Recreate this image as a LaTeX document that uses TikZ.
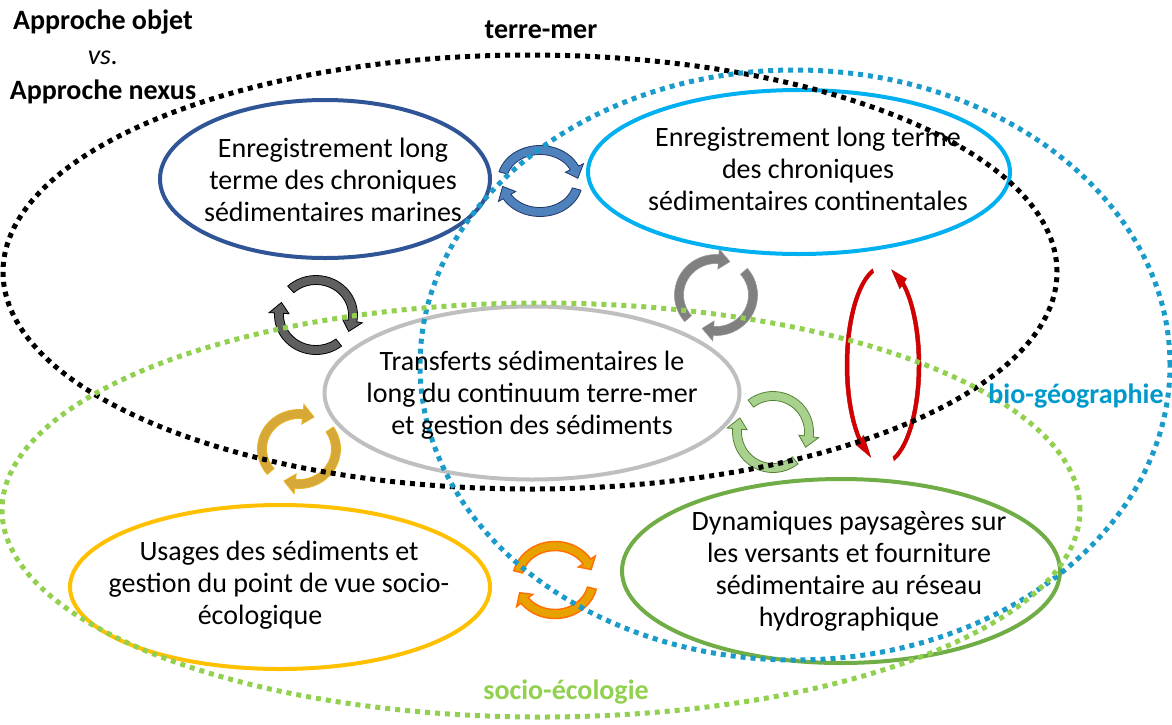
\documentclass[tikz,border=0pt]{standalone}
\usepackage{fontspec}
\setmainfont{Carlito}
\usetikzlibrary{shapes.geometric}
\definecolor{cmar}{HTML}{2F5597}
\definecolor{ccont}{HTML}{00B0F0}
\definecolor{ctrans}{HTML}{BFBFBF}
\definecolor{cusag}{HTML}{FFC000}
\definecolor{cdyn}{HTML}{70AD47}
\definecolor{cbio}{HTML}{0099CC}
\definecolor{csocio}{HTML}{92D050}
\definecolor{cbiodot}{HTML}{1A9BC9}
\newcommand{\carrow}[9]{%
\begin{scope}[shift={#2}]
\pgfmathsetmacro{\rxo}{#3+#7}\pgfmathsetmacro{\ryo}{#4+#7}%
\pgfmathsetmacro{\rxi}{#3-#7}\pgfmathsetmacro{\ryi}{#4-#7}%
\pgfmathsetmacro{\rxa}{#3+#8}\pgfmathsetmacro{\rya}{#4+#8}%
\pgfmathsetmacro{\rxb}{#3-#8}\pgfmathsetmacro{\ryb}{#4-#8}%
\pgfmathsetmacro{\at}{#6+#9}%
\draw[#1] (#5:\rxo pt and \ryo pt) arc[start angle=#5, end angle=#6, x radius=\rxo pt, y radius=\ryo pt]
 -- (#6:\rxa pt and \rya pt) -- (\at:#3pt and #4pt) -- (#6:\rxb pt and \ryb pt)
 -- (#6:\rxi pt and \ryi pt) arc[start angle=#6, end angle=#5, x radius=\rxi pt, y radius=\ryi pt] -- cycle;
\end{scope}}
\tikzset{
 solidell/.style={ellipse, draw=#1, line width=4pt, inner sep=0pt},
 dotell/.style={ellipse, draw=#1, line width=5pt, dash pattern=on 5pt off 5pt, inner sep=0pt},
 bodytext/.style={align=center, font=\fontsize{28}{32}\selectfont, inner sep=0pt},
 labeltext/.style={align=center, font=\fontsize{28}{35}\selectfont\bfseries, inner sep=0pt},
 arrblue/.style={fill={rgb,255:red,79;green,129;blue,189}, draw={rgb,255:red,31;green,56;blue,100}, line width=0.8pt},
 arrdark/.style={fill={rgb,255:red,95;green,95;blue,95}, draw=black, line width=0.8pt},
 arrgrey/.style={fill={rgb,255:red,128;green,128;blue,128}, draw={rgb,255:red,150;green,150;blue,150}, line width=0.6pt},
 arrred/.style={fill={rgb,255:red,210;green,0;blue,0}, draw={rgb,255:red,192;green,0;blue,0}, line width=0.5pt},
 arrgreen/.style={fill={rgb,255:red,169;green,209;blue,142}, draw={rgb,255:red,84;green,130;blue,53}, line width=0.8pt},
 arrgold/.style={fill={rgb,255:red,214;green,168;blue,56}, draw={rgb,255:red,232;green,180;blue,40}, line width=0.8pt},
 arrorange/.style={fill={rgb,255:red,232;green,162;blue,0}, draw={rgb,255:red,255;green,112;blue,0}, line width=1.5pt},
}
\begin{document}
\begin{tikzpicture}[x=1pt,y=1pt,yscale=-1]
\useasboundingbox (0,0) rectangle (1172,724);
% solid ellipses
\node[solidell=cmar, minimum width=330pt, minimum height=158pt] (emar) at (325,179) {};
\node[solidell=ccont, minimum width=422pt, minimum height=164pt] (econt) at (799,172) {};
\node[solidell=ctrans, minimum width=415pt, minimum height=173pt] (etrans) at (532,393) {};
\node[solidell=cusag, minimum width=420pt, minimum height=164pt] (eusag) at (280,587) {};
\node[solidell=cdyn, minimum width=438pt, minimum height=184pt] (edyn) at (841,571) {};
% circular arrows
\carrow{arrblue}{(540,181)}{38}{31}{195}{335}{4.5}{10}{20}
\carrow{arrblue}{(540,181)}{38}{31}{15}{150}{4.5}{10}{20}
\carrow{arrdark}{(316,315)}{37}{35}{227}{370}{4.5}{10}{18}
\carrow{arrdark}{(316,315)}{37}{35}{52}{183}{4.5}{10}{18}
\carrow{arrgrey}{(716,295)}{37}{36}{139}{274}{4.5}{10}{18}
\carrow{arrgrey}{(716,295)}{37}{36}{-41}{94}{4.5}{10}{18}
\carrow{arrred}{(883,365)}{36}{98}{254}{130}{2}{6}{-20}
\carrow{arrred}{(883,365)}{36}{98}{73}{-56}{2}{6}{-20}
\carrow{arrgreen}{(773,432)}{36}{36}{232}{367}{4.5}{10}{18}
\carrow{arrgreen}{(773,432)}{36}{36}{52}{185}{4.5}{10}{18}
\carrow{arrgold}{(299,449)}{37}{35}{140}{276}{4.5}{10}{18}
\carrow{arrgold}{(299,449)}{37}{35}{-34}{96}{4.5}{10}{18}
\carrow{arrorange}{(555,580)}{38}{34}{194}{327}{4.5}{10}{15}
\carrow{arrorange}{(555,580)}{38}{34}{14}{143}{4.5}{10}{15}
% dotted ellipses
\node[dotell=black, minimum width=1054pt, minimum height=434pt] (eterre) at (530,272) {};
\node[dotell=cbiodot, minimum width=750pt, minimum height=590pt] (ebio) at (795,365) {};
\node[dotell=csocio, minimum width=1078pt, minimum height=414pt] (esocio) at (541,510) {};
% texts
\node[bodytext] (tmar) at (333,180) {Enregistrement long\\terme des chroniques\\sédimentaires marines};
\node[bodytext] (tcont) at (808,169) {Enregistrement long terme\\des chroniques\\sédimentaires continentales};
\node[bodytext] (ttrans) at (532,395) {Transferts sédimentaires le\\long du continuum terre-mer\\et gestion des sédiments};
\node[bodytext] (tusag) at (279,585) {Usages des sédiments et\\gestion du point de vue socio-\\écologique\hspace*{38pt}};
\node[bodytext] (tdyn) at (849,571) {Dynamiques paysagères sur\\les versants et fourniture\\sédimentaire au réseau\\hydrographique};
\node[labeltext] (tappr) at (103,57) {Approche objet\\{\normalfont\itshape vs.}\\Approche nexus};
\node[labeltext] (tterre) at (541,30) {terre-mer};
\node[labeltext, text=cbio] (tbio) at (1076,396) {bio-géographie};
\node[labeltext, text=csocio] (tsocio) at (566,692) {socio-écologie};
\end{tikzpicture}
\end{document}
